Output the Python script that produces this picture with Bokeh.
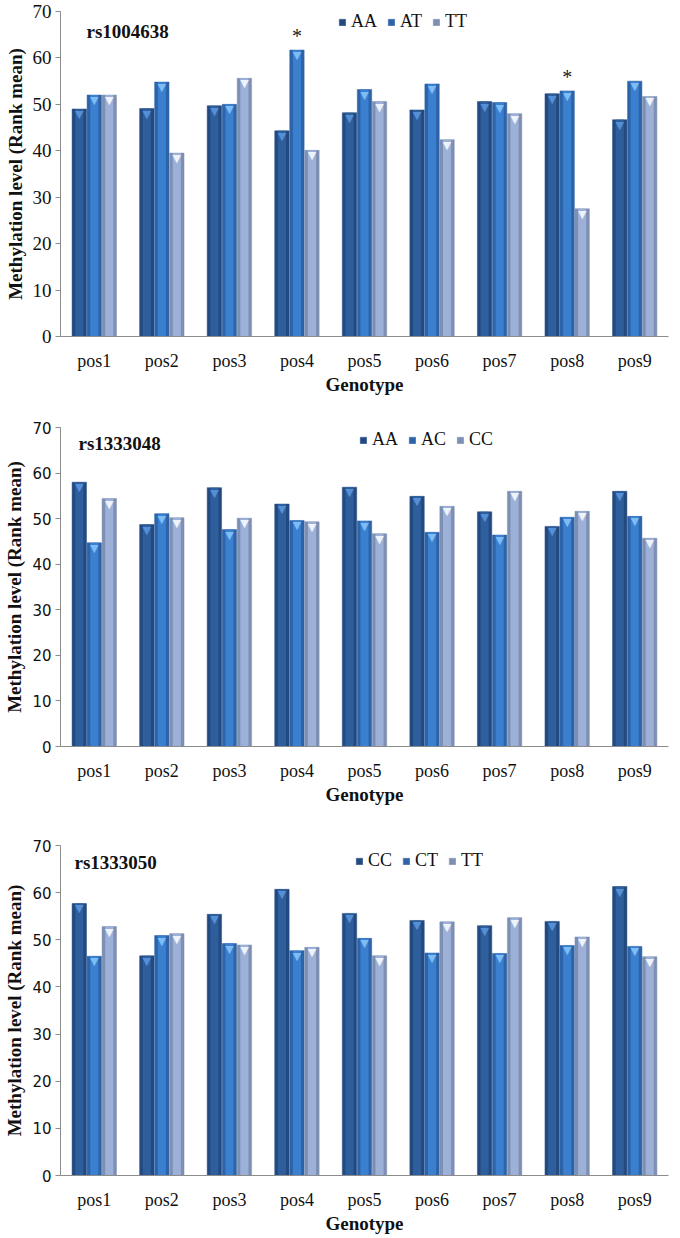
from bokeh.plotting import figure
from bokeh.layouts import column
from bokeh.models import Legend, LegendItem, Label, ColumnDataSource, Range1d
from bokeh.transform import dodge
from bokeh.core.properties import value
from bokeh.embed import file_html
from bokeh.resources import INLINE

positions = ["pos1", "pos2", "pos3", "pos4", "pos5", "pos6", "pos7", "pos8", "pos9"]
y_ticks = [0, 10, 20, 30, 40, 50, 60, 70]

snp1 = "rs1004638"
genos1 = ["AA", "AT", "TT"]
s1_g1 = [49.0, 49.1, 49.7, 44.3, 48.2, 48.8, 50.6, 52.3, 46.7]
s1_g2 = [52.0, 54.8, 50.0, 61.7, 53.2, 54.4, 50.4, 52.9, 55.0]
s1_g3 = [52.0, 39.5, 55.6, 40.1, 50.6, 42.4, 48.0, 27.5, 51.7]
sig1 = ["", "", "", "*", "", "", "", "*", ""]

snp2 = "rs1333048"
genos2 = ["AA", "AC", "CC"]
s2_g1 = [58.0, 48.7, 56.8, 53.2, 56.9, 54.9, 51.5, 48.3, 56.0]
s2_g2 = [44.7, 51.1, 47.6, 49.6, 49.5, 47.0, 46.4, 50.3, 50.5]
s2_g3 = [54.4, 50.2, 50.1, 49.3, 46.7, 52.7, 56.0, 51.6, 45.7]
sig2 = ["", "", "", "", "", "", "", "", ""]

snp3 = "rs1333050"
genos3 = ["CC", "CT", "TT"]
s3_g1 = [57.7, 46.6, 55.4, 60.7, 55.6, 54.1, 53.0, 53.9, 61.3]
s3_g2 = [46.5, 50.9, 49.2, 47.7, 50.3, 47.2, 47.1, 48.8, 48.6]
s3_g3 = [52.8, 51.3, 48.9, 48.4, 46.6, 53.8, 54.7, 50.6, 46.4]
sig3 = ["", "", "", "", "", "", "", "", ""]

EDGE = ["#234a80", "#2d63a8", "#7d8fb3"]
MAIN = ["#2f5e9c", "#3b7fcf", "#9db1d8"]
CAP = ["#5590d6", "#7dbcf5", "#eef3fb"]
SERIF = "Liberation Serif"


def make_panel(snp, genos, g1, g2, g3, sig, tick_font, tick_size, height, top, bottom,
               leg_xy, title_xy):
    src = ColumnDataSource(dict(pos=positions, g1=g1, g2=g2, g3=g3, sig=sig))
    p = figure(x_range=positions, y_range=Range1d(0, 70), width=672, height=height,
               output_backend="svg", toolbar_location=None,
               min_border_left=60, min_border_right=4,
               min_border_top=top, min_border_bottom=bottom)
    offs = [-0.222, 0.0, 0.222]
    cols = ["g1", "g2", "g3"]
    items = []
    for i in range(3):
        x = dodge("pos", offs[i], range=p.x_range)
        r = p.vbar(x=x, top=cols[i], width=0.213, source=src,
                   fill_color=EDGE[i], line_color=EDGE[i], line_width=0.5)
        p.vbar(x=x, top=cols[i], width=0.12, source=src,
               fill_color=MAIN[i], line_color=None)
        p.text(x=x, y=cols[i], text=value("\u25bc"), source=src,
               text_align="center", text_baseline="top", y_offset=-1,
               text_color=CAP[i], text_font=value("DejaVu Sans"),
               text_font_size="11px")
        items.append(LegendItem(label=genos[i], renderers=[r]))
    p.text(x=dodge("pos", 0.0, range=p.x_range), y="g2", text="sig", source=src,
           text_align="center", text_baseline="bottom", y_offset=-3,
           text_font=value(SERIF), text_font_size="20px", text_color="#222222")

    legend = Legend(items=items, orientation="horizontal", location=leg_xy,
                    border_line_color=None, background_fill_alpha=0,
                    label_text_font=SERIF, label_text_font_size="18px",
                    label_text_color="#111111",
                    glyph_width=8, glyph_height=8, label_standoff=5, spacing=10,
                    padding=2, margin=0)
    p.add_layout(legend, "center")

    p.add_layout(Label(x=title_xy[0], y=title_xy[1], x_units="screen", y_units="screen",
                       text=snp, text_font=SERIF, text_font_style="bold",
                       text_color="#111111",
                       text_font_size="19px", text_baseline="middle"))

    p.xgrid.grid_line_color = None
    p.ygrid.grid_line_color = None
    p.outline_line_color = None
    p.yaxis.ticker = y_ticks
    p.axis.axis_line_color = "#8c8c8c"
    p.yaxis.major_tick_line_color = "#8c8c8c"
    p.yaxis.major_tick_out = 5
    p.yaxis.major_tick_in = 0
    p.yaxis.minor_tick_line_color = None
    p.xaxis.major_tick_line_color = None
    p.xaxis.minor_tick_line_color = None
    p.yaxis.major_label_text_font = tick_font
    p.yaxis.major_label_text_font_size = tick_size
    p.yaxis.major_label_text_color = "#111111"
    p.yaxis.major_label_standoff = 4
    p.xaxis.major_label_text_font = SERIF
    p.xaxis.major_label_text_font_size = "18px"
    p.xaxis.major_label_text_color = "#111111"
    p.xaxis.major_label_standoff = 8
    p.yaxis.axis_label = "Methylation level (Rank mean)"
    p.xaxis.axis_label = "Genotype"
    p.axis.axis_label_text_font = SERIF
    p.axis.axis_label_text_font_style = "bold"
    p.axis.axis_label_text_font_size = "19px"
    p.axis.axis_label_text_color = "#111111"
    p.yaxis.axis_label_standoff = 4
    p.xaxis.axis_label_standoff = 0
    return p


p1 = make_panel(snp1, genos1, s1_g1, s1_g2, s1_g3, sig1, SERIF, "19px", 406, 11, 70,
                (278, 304), (26, 305))
p2 = make_panel(snp2, genos2, s2_g1, s2_g2, s2_g3, sig2, "DejaVu Sans", "15px", 417, 21, 77,
                (299, 296), (18, 303))
p3 = make_panel(snp3, genos3, s3_g1, s3_g2, s3_g3, sig3, "DejaVu Sans", "15px", 414, 22, 62,
                (295, 304), (14, 313))

layout = column(p1, p2, p3, spacing=0)
open("out.html", "w").write(file_html(layout, INLINE))
